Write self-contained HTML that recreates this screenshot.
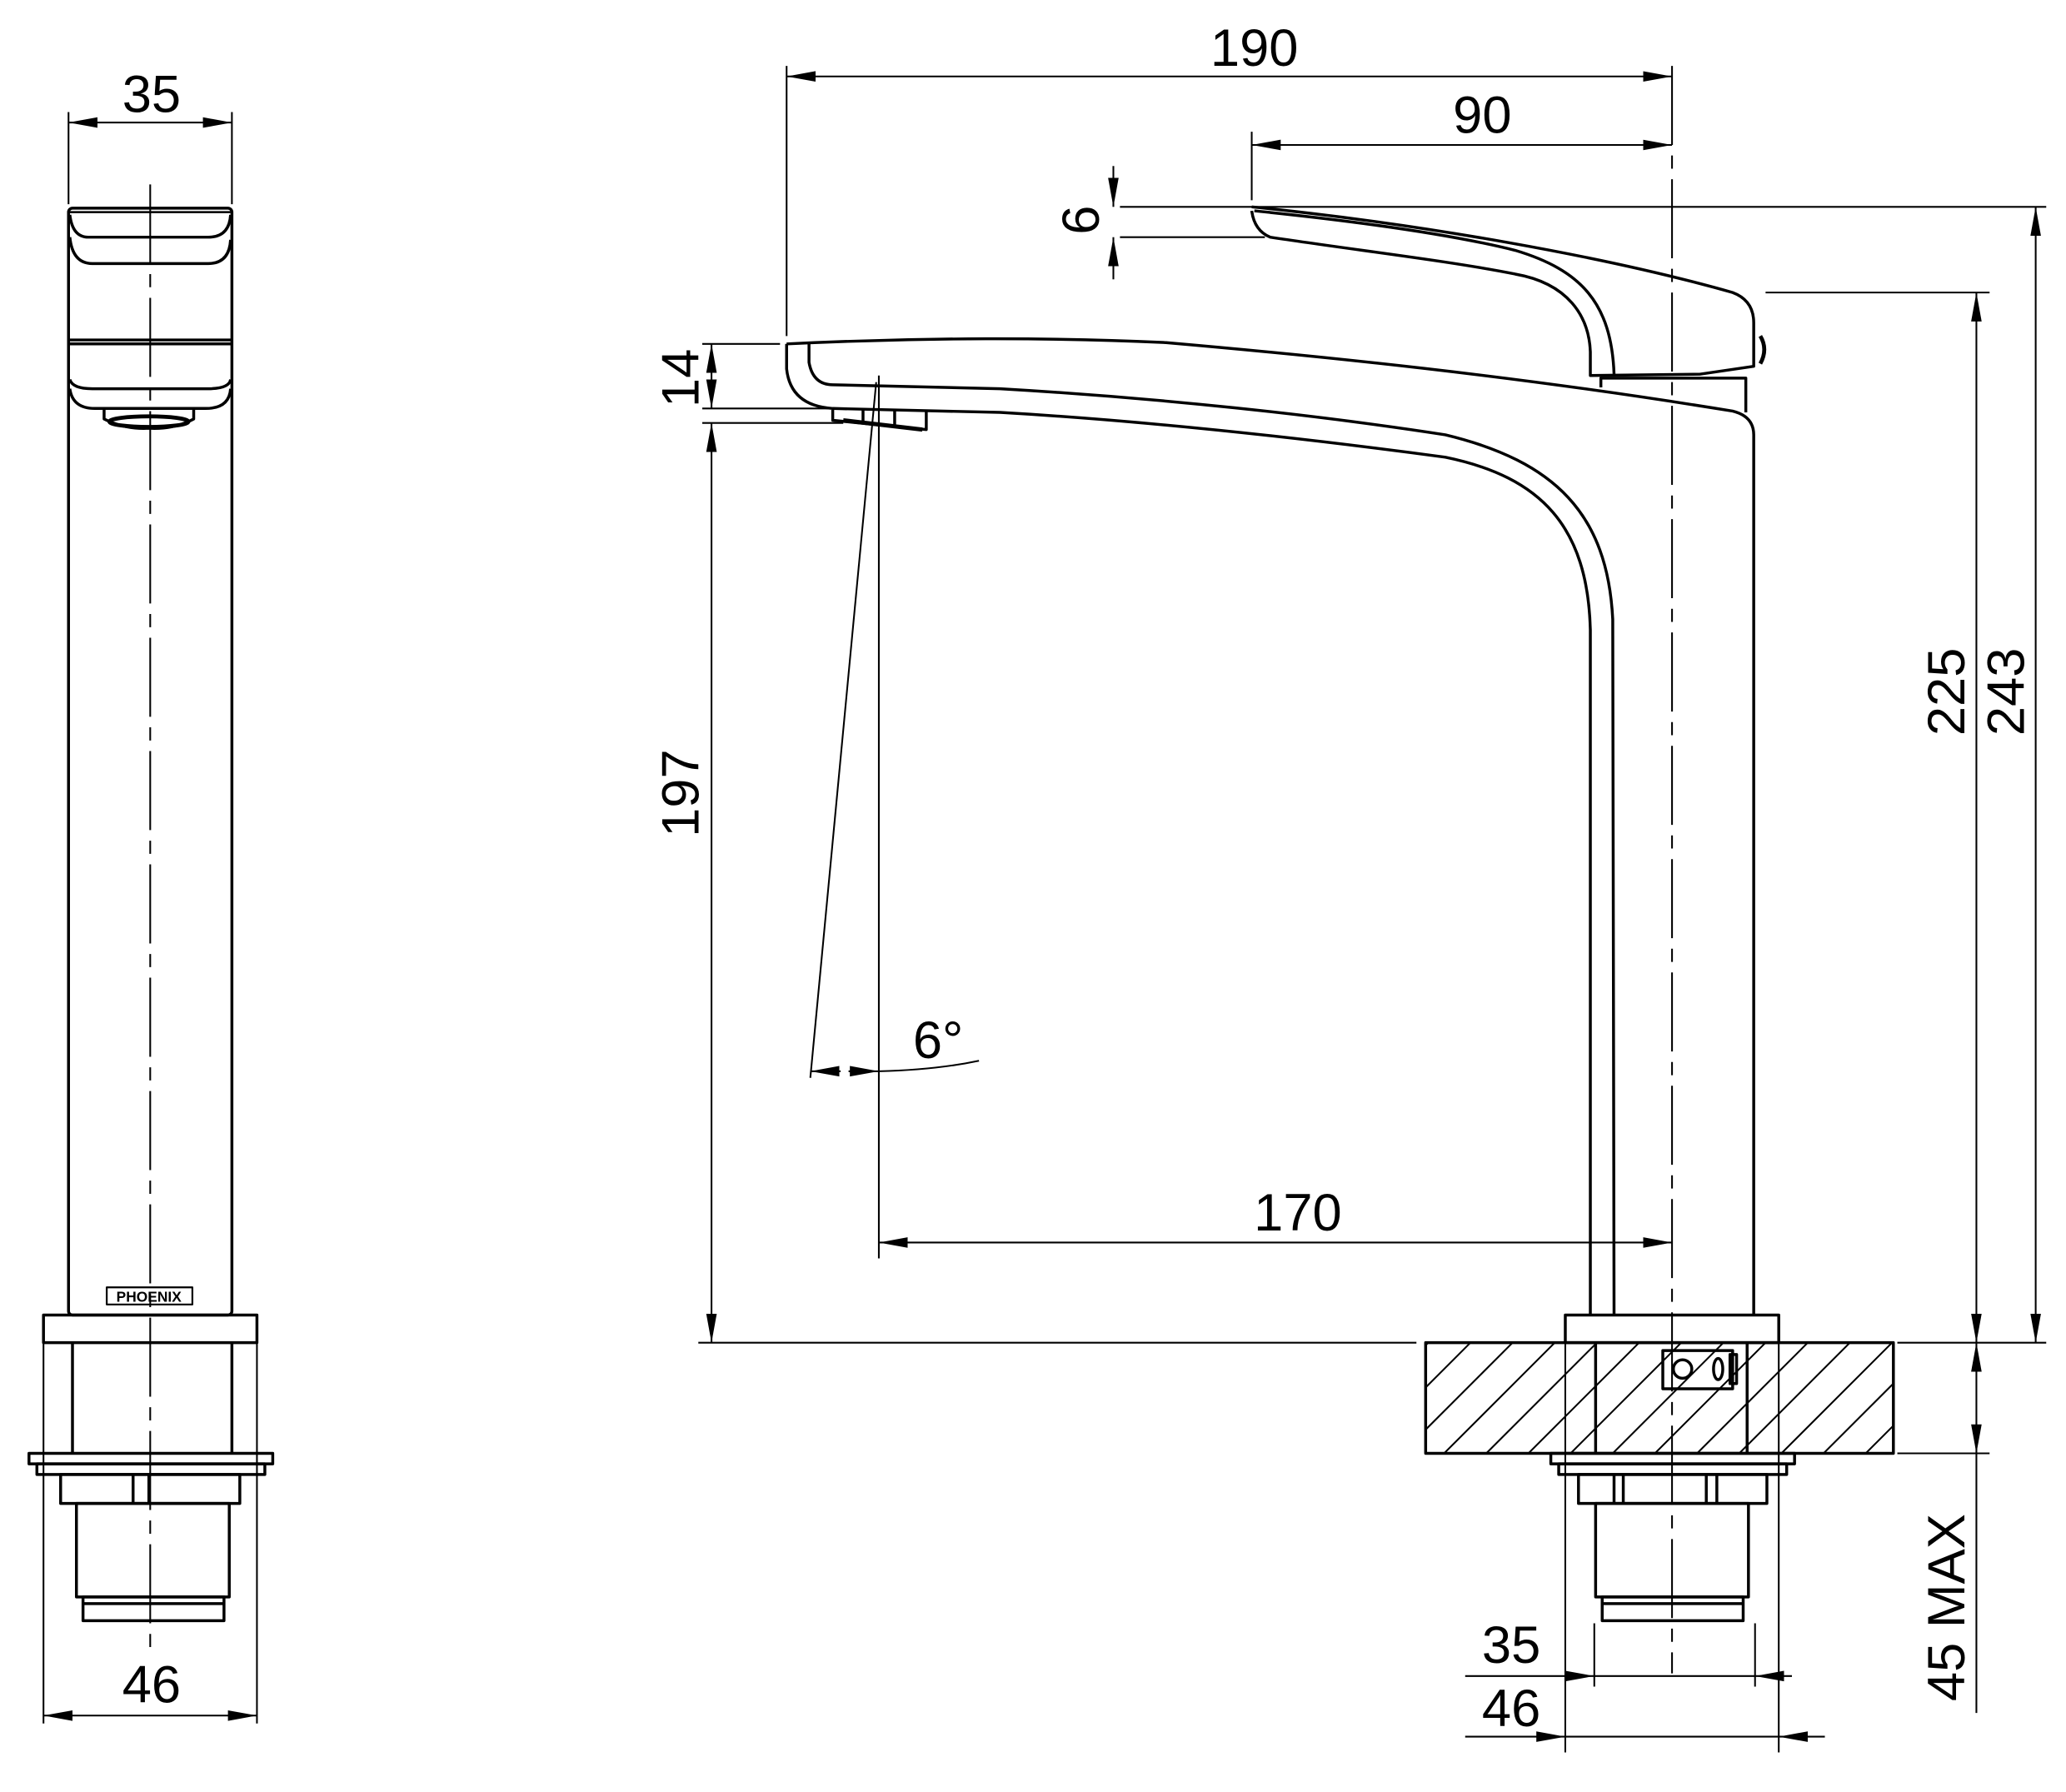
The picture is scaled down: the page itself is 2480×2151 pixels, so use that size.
<!DOCTYPE html>
<html><head><meta charset="utf-8"><style>
html,body{margin:0;padding:0;background:#fff}
svg{display:block}
text{font-family:"Liberation Sans","DejaVu Sans",sans-serif;font-size:40px;fill:#000}
</style></head><body>
<svg width="2480" height="2151" viewBox="0 0 1568 1360" xmlns="http://www.w3.org/2000/svg">
<defs>
<marker id="a" viewBox="0 0 22 10" refX="22" refY="5" markerWidth="22" markerHeight="10" markerUnits="userSpaceOnUse" orient="auto-start-reverse"><path d="M0,1 L22,5 L0,9 Z" fill="#000"/></marker>
<clipPath id="hc"><rect x="1082" y="1019" width="355" height="84"/></clipPath>
</defs>
<g fill="none" stroke="#000" stroke-width="2.2" stroke-linejoin="round">
<!-- LEFT VIEW -->
<rect x="52" y="158" width="124" height="840" rx="3"/>
<line x1="53" y1="161" x2="175" y2="161" stroke-width="1.6"/>
<path d="M53,163 Q55,180 67,180 L158,180 Q174,180 175,163"/>
<path d="M53,180 Q55,200 70,200 L158,200 Q174,200 175,182"/>
<line x1="52" y1="258" x2="176" y2="258"/>
<line x1="52" y1="261" x2="176" y2="261"/>
<path d="M53,288 Q55,295 70,295 L158,295 Q174,295 175,288"/>
<path d="M53,295 Q55,310 72,310 L156,310 Q174,310 175,295"/>
<path d="M79,311 L79,318 Q95,326 113,325 Q132,326 147,318 L147,311"/>
<ellipse cx="113" cy="320" rx="30" ry="4" stroke-width="3"/>
<rect x="81" y="977" width="65" height="13" stroke-width="1.4"/>
<rect x="33" y="998" width="162" height="21"/>
<line x1="55" y1="1019" x2="55" y2="1103"/><line x1="176" y1="1019" x2="176" y2="1103"/>
<rect x="22" y="1103" width="185" height="8"/>
<rect x="28" y="1111" width="173" height="8"/>
<rect x="46" y="1119" width="136" height="22"/>
<line x1="101" y1="1119" x2="101" y2="1141"/><line x1="113" y1="1119" x2="113" y2="1141"/>
<rect x="58" y="1141" width="116" height="71"/>
<rect x="63" y="1212" width="107" height="18"/>
<line x1="63" y1="1217" x2="170" y2="1217"/>
</g>
<g fill="none" stroke="#000" stroke-width="1.3">
<line x1="114" y1="140" x2="114" y2="1255" stroke-dasharray="60 8 10 8"/>
<line x1="52" y1="85" x2="52" y2="155"/><line x1="176" y1="85" x2="176" y2="155"/>
<line x1="52" y1="93" x2="176" y2="93" marker-start="url(#a)" marker-end="url(#a)"/>
<line x1="33" y1="1019" x2="33" y2="1308"/><line x1="195" y1="1019" x2="195" y2="1308"/>
<line x1="33" y1="1302" x2="195" y2="1302" marker-start="url(#a)" marker-end="url(#a)"/>
</g>
<text x="115" y="85" text-anchor="middle">35</text>
<text x="115" y="1292" text-anchor="middle">46</text>
<text x="113" y="988" text-anchor="middle" style="font-size:11px;font-weight:bold">PHOENIX</text>

<!-- RIGHT VIEW -->
<g fill="none" stroke="#000" stroke-width="2.2" stroke-linejoin="round">
<!-- lever -->
<path d="M950,157 C1080,170 1220,195 1315,222 Q1331,228 1331,245 L1331,278 L1290,284 L1207,285 L1207,267 C1206,240 1190,215 1150,208 C1100,198 1030,190 964,180 Q952,175 950,160"/>
<path d="M952,160 C1050,170 1110,180 1150,190 C1200,205 1223,230 1225,284"/>
<path d="M1336,255 Q1342,265 1336,276" stroke-width="3"/>
<!-- connector -->
<path d="M1215,294 L1215,287 L1325,287 L1325,313"/>
<!-- spout -->
<path d="M597,261 C700,256 800,256 885,260 C1000,270 1150,285 1315,312 Q1331,316 1331,330 L1331,998"/>
<path d="M614,261 L614,275 Q617,292 632,292 L759,295 C880,302 1000,315 1097,330 C1180,350 1220,390 1224,470 L1225,998"/>
<path d="M597,261 L597,280 Q600,308 632,310 L759,313 C880,320 1000,334 1097,347 C1170,362 1205,400 1207,478 L1207,998"/>
<!-- aerator -->
<path d="M632,311 L632,319 L703,326 L703,312"/>
<line x1="655" y1="311" x2="655" y2="321"/><line x1="679" y1="311" x2="679" y2="323"/>
<path d="M640,319 L700,326" stroke-width="3.2"/>
<!-- base -->
<rect x="1188" y="998" width="162" height="21"/>
<rect x="1082" y="1019" width="355" height="84"/>
<line x1="1211" y1="1019" x2="1211" y2="1103"/><line x1="1326" y1="1019" x2="1326" y2="1103"/>
<rect x="1262" y="1025" width="53" height="29"/>
<circle cx="1277" cy="1039" r="7"/>
<ellipse cx="1304" cy="1039" rx="3.5" ry="8"/>
<rect x="1313" y="1028" width="5" height="22"/>
<rect x="1177" y="1103" width="185" height="8"/>
<rect x="1183" y="1111" width="173" height="8"/>
<rect x="1198" y="1119" width="143" height="22"/>
<line x1="1225" y1="1119" x2="1225" y2="1141"/><line x1="1232" y1="1119" x2="1232" y2="1141"/>
<line x1="1295" y1="1119" x2="1295" y2="1141"/><line x1="1303" y1="1119" x2="1303" y2="1141"/>
<rect x="1211" y="1141" width="116" height="71"/>
<rect x="1216" y="1212" width="107" height="18"/>
<line x1="1216" y1="1217" x2="1323" y2="1217"/>
</g>
<g clip-path="url(#hc)" stroke="#000" stroke-width="1.3">
<line x1="1000" y1="1103" x2="1084" y2="1019"/><line x1="1032" y1="1103" x2="1116" y2="1019"/>
<line x1="1064" y1="1103" x2="1148" y2="1019"/><line x1="1096" y1="1103" x2="1180" y2="1019"/>
<line x1="1128" y1="1103" x2="1212" y2="1019"/><line x1="1160" y1="1103" x2="1244" y2="1019"/>
<line x1="1192" y1="1103" x2="1276" y2="1019"/><line x1="1224" y1="1103" x2="1308" y2="1019"/>
<line x1="1256" y1="1103" x2="1340" y2="1019"/><line x1="1288" y1="1103" x2="1372" y2="1019"/>
<line x1="1320" y1="1103" x2="1404" y2="1019"/><line x1="1352" y1="1103" x2="1436" y2="1019"/>
<line x1="1384" y1="1103" x2="1468" y2="1019"/><line x1="1416" y1="1103" x2="1500" y2="1019"/>
</g>
<g fill="none" stroke="#000" stroke-width="1.3">
<line x1="1269" y1="50" x2="1269" y2="1270" stroke-dasharray="60 8 10 8"/>
<!-- 190 -->
<line x1="597" y1="50" x2="597" y2="255"/>
<line x1="597" y1="58" x2="1269" y2="58" marker-start="url(#a)" marker-end="url(#a)"/>
<!-- 90 -->
<line x1="950" y1="100" x2="950" y2="152"/>
<line x1="950" y1="110" x2="1269" y2="110" marker-start="url(#a)" marker-end="url(#a)"/>
<!-- 6 -->
<line x1="850" y1="157" x2="1553" y2="157"/>
<line x1="850" y1="180" x2="960" y2="180"/>
<line x1="845" y1="126" x2="845" y2="157" marker-end="url(#a)"/>
<line x1="845" y1="212" x2="845" y2="180" marker-end="url(#a)"/>
<!-- 14 / 197 -->
<line x1="533" y1="261" x2="592" y2="261"/>
<line x1="533" y1="310" x2="630" y2="310"/>
<line x1="533" y1="321" x2="640" y2="321"/>
<line x1="540" y1="261" x2="540" y2="310" marker-start="url(#a)" marker-end="url(#a)"/>
<line x1="540" y1="321" x2="540" y2="1019" marker-start="url(#a)" marker-end="url(#a)"/>
<line x1="530" y1="1019" x2="1075" y2="1019"/>
<!-- 225 / 243 -->
<line x1="1340" y1="222" x2="1510" y2="222"/>
<line x1="1440" y1="1019" x2="1553" y2="1019"/>
<line x1="1440" y1="1103" x2="1510" y2="1103"/>
<line x1="1500" y1="222" x2="1500" y2="1019" marker-start="url(#a)" marker-end="url(#a)"/>
<line x1="1545" y1="157" x2="1545" y2="1019" marker-start="url(#a)" marker-end="url(#a)"/>
<line x1="1500" y1="1019" x2="1500" y2="1103" marker-start="url(#a)" marker-end="url(#a)"/>
<line x1="1500" y1="1103" x2="1500" y2="1300"/>
<!-- 170 & angle -->
<line x1="667" y1="285" x2="667" y2="955"/>
<line x1="665" y1="290" x2="615" y2="818"/>
<line x1="667" y1="943" x2="1269" y2="943" marker-start="url(#a)" marker-end="url(#a)"/>
<line x1="638" y1="813" x2="615" y2="813" marker-end="url(#a)"/>
<line x1="644" y1="813" x2="667" y2="813" marker-end="url(#a)"/>
<path d="M667,813 Q710,812 743,805"/>
<!-- bottom 35 / 46 -->
<line x1="1210" y1="1232" x2="1210" y2="1280"/><line x1="1332" y1="1232" x2="1332" y2="1280"/>
<line x1="1188" y1="1020" x2="1188" y2="1330"/><line x1="1350" y1="1020" x2="1350" y2="1330"/>
<line x1="1112" y1="1272" x2="1210" y2="1272" marker-end="url(#a)"/>
<line x1="1360" y1="1272" x2="1332" y2="1272" marker-end="url(#a)"/>
<line x1="1210" y1="1272" x2="1332" y2="1272"/>
<line x1="1112" y1="1318" x2="1188" y2="1318" marker-end="url(#a)"/>
<line x1="1385" y1="1318" x2="1350" y2="1318" marker-end="url(#a)"/>
<line x1="1188" y1="1318" x2="1350" y2="1318"/>
</g>
<text x="952" y="50" text-anchor="middle">190</text>
<text x="1125" y="101" text-anchor="middle">90</text>
<text x="985" y="934" text-anchor="middle">170</text>
<text x="712" y="803" text-anchor="middle">6°</text>
<text x="1147" y="1262" text-anchor="middle">35</text>
<text x="1147" y="1310" text-anchor="middle">46</text>
<text transform="translate(834,167) rotate(-90)" text-anchor="middle">6</text>
<text transform="translate(530,287) rotate(-90)" text-anchor="middle">14</text>
<text transform="translate(530,602) rotate(-90)" text-anchor="middle">197</text>
<text transform="translate(1491,525) rotate(-90)" text-anchor="middle">225</text>
<text transform="translate(1536,525) rotate(-90)" text-anchor="middle">243</text>
<text transform="translate(1491,1220) rotate(-90)" text-anchor="middle">45 MAX</text>
</svg>
</body></html>
